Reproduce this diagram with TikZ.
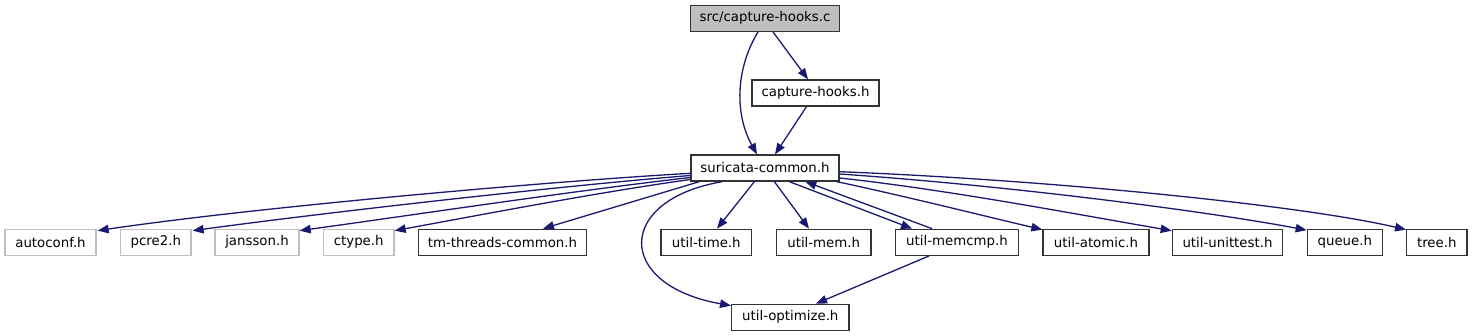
\documentclass[tikz,border=0pt]{standalone}
\usepackage{fontspec}
\setmainfont{DejaVu Sans}
\usetikzlibrary{arrows.meta}
\definecolor{edgec}{HTML}{191970}
\definecolor{greyb}{HTML}{BFBFBF}
\definecolor{greyf}{HTML}{BFBFBF}
\definecolor{boxb}{HTML}{333333}
\begin{document}
\begin{tikzpicture}[x=1pt,y=-1pt,
  box/.style={draw=boxb,line width=1.3pt,fill=white,inner sep=0pt,minimum height=26pt,font=\fontsize{13.33}{16}\selectfont},
  gbox/.style={box,draw=greyb},
  edge/.style={draw=edgec,line width=1.3pt,-{Triangle[length=11pt,width=8.5pt]}}]
\useasboundingbox (0,0) rectangle (1473,336);
% nodes
\node[box,fill=greyf,minimum width=149pt] (c) at (765,18.3) {src/capture-hooks.c};
\node[box,minimum width=127pt] (h) at (815.5,93) {capture-hooks.h};
\node[box,minimum width=148pt] (sc) at (765,168) {suricata-common.h};
\node[gbox,minimum width=91pt] (ac) at (50.5,242.3) {autoconf.h};
\node[gbox,minimum width=70.3pt] (pc) at (155.8,242.3) {pcre2.h};
\node[gbox,minimum width=84pt] (ja) at (257,242.3) {jansson.h};
\node[gbox,minimum width=70.7pt] (ct) at (358.7,242.3) {ctype.h};
\node[box,minimum width=168.4pt] (tm) at (502.5,242.3) {tm-threads-common.h};
\node[box,minimum width=90.7pt] (ti) at (706.3,242.3) {util-time.h};
\node[box,minimum width=94.7pt] (me) at (823.7,242.3) {util-mem.h};
\node[box,minimum width=122.6pt] (mc) at (957,242.3) {util-memcmp.h};
\node[box,minimum width=106pt] (at) at (1096,242.3) {util-atomic.h};
\node[box,minimum width=110.4pt] (ut) at (1227.5,242.3) {util-unittest.h};
\node[box,minimum width=75pt] (qu) at (1344.8,242.3) {queue.h};
\node[box,minimum width=60.3pt] (tr) at (1436.8,242.3) {tree.h};
\node[box,minimum width=117.3pt] (op) at (790.3,317.3) {util-optimize.h};
% edges
\draw[edge] ([xshift=8pt]c.south) -- ([xshift=-7.5pt]h.north);
\draw[edge] ([xshift=-7pt]c.south) .. controls (735,70) and (735,115) .. ([xshift=-8pt]sc.north);
\draw[edge] ([xshift=-9pt]h.south) -- ([xshift=10pt]sc.north);
\draw[edge] ([yshift=-5.3pt]sc.west) .. controls (540,182) and (250,208) .. ([xshift=1pt,yshift=-2pt]ac.north east);
\draw[edge] ([yshift=-7.5pt]sc.west) .. controls (560,186) and (330,212) .. ([xshift=1pt,yshift=-2pt]pc.north east);
\draw[edge] ([yshift=-9.5pt]sc.west) .. controls (580,190) and (420,214) .. ([xshift=0pt,yshift=-2pt]ja.north east);
\draw[edge] ([yshift=-11.5pt]sc.west) .. controls (600,192) and (480,215) .. ([xshift=0pt,yshift=-2pt]ct.north east);
\draw[edge] ([xshift=9pt]sc.south west) -- ([xshift=40.5pt]tm.north);
\draw[edge] ([xshift=32pt]sc.south west) .. controls (615,200) and (615,285) .. ([yshift=-2pt]op.north west);
\draw[edge] ([xshift=64pt]sc.south west) -- ([xshift=10.7pt]ti.north);
\draw[edge] ([xshift=84pt]sc.south west) -- ([xshift=-14.7pt]me.north);
\draw[edge] ([xshift=99pt]sc.south west) -- ([xshift=17pt]mc.north west);
\draw[edge] ([xshift=37pt]mc.north west) -- ([xshift=115pt]sc.south west);
\draw[edge] ([xshift=-3pt]sc.south east) .. controls (900,195) and (980,215) .. ([yshift=-1pt]at.north west);
\draw[edge] ([yshift=-10pt]sc.east) .. controls (950,190) and (1080,215) .. ([yshift=-2pt]ut.north west);
\draw[edge] ([yshift=-6pt]sc.east) .. controls (1000,185) and (1200,210) .. ([yshift=-1.5pt]qu.north west);
\draw[edge] ([yshift=-3.7pt]sc.east) .. controls (1050,180) and (1300,205) .. ([yshift=-1pt]tr.north west);
\draw[edge] ([xshift=34pt]mc.south west) -- ([xshift=25.7pt]op.north);
\end{tikzpicture}
\end{document}
